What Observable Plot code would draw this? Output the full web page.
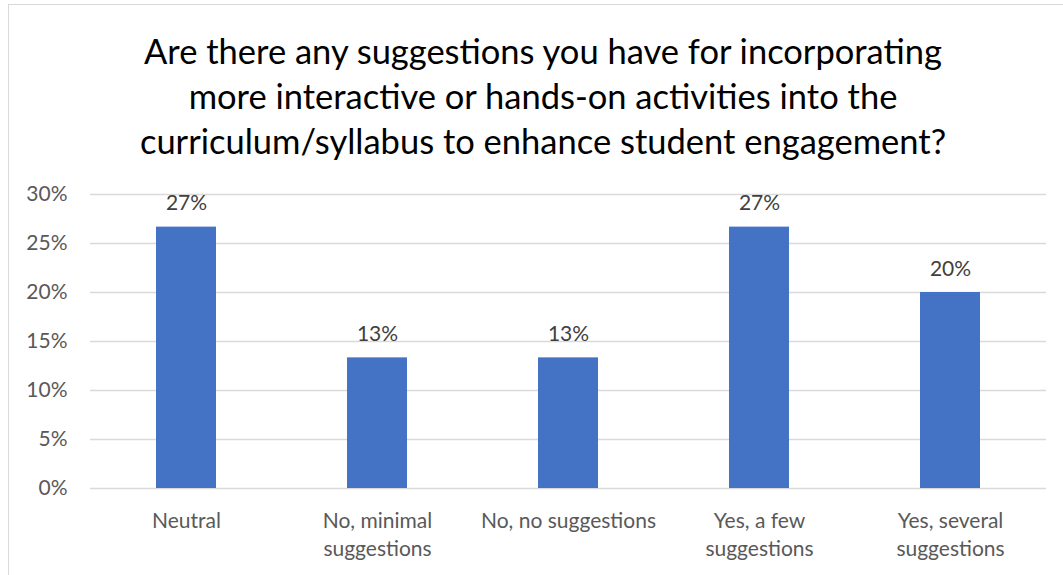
<!DOCTYPE html>
<html>
<head>
<meta charset="utf-8">
<script src="https://cdn.jsdelivr.net/npm/d3@7"></script>
<script src="https://cdn.jsdelivr.net/npm/@observablehq/plot@0.6"></script>
<style>
  html, body { margin: 0; padding: 0; background: #fff; }
  #frame { position: absolute; left: 8px; top: 4px; width: 1060px; height: 575px; border: 1px solid #d9d9d9; box-sizing: border-box; }
  #title { position: absolute; left: 0; top: 28px; width: 1086px; text-align: center; font-family: Lato, sans-serif; font-size: 34.5px; line-height: 45px; color: #000; white-space: nowrap; }
  #chart { position: absolute; left: 0; top: 160px; }
</style>
</head>
<body>
<div id="frame"></div>
<div id="title">Are there any suggestions you have for incorporating<br>more interactive or hands-on activities into the<br>curriculum/syllabus to enhance student engagement?</div>
<div id="chart"></div>
<script>
const categories = ["Neutral", "No, minimal suggestions", "No, no suggestions", "Yes, a few suggestions", "Yes, several suggestions"];
const tickLabels = ["Neutral", "No, minimal\nsuggestions", "No, no suggestions", "Yes, a few\nsuggestions", "Yes, several\nsuggestions"];
const values = [0.2667, 0.1333, 0.1333, 0.2667, 0.20];
const valueLabels = ["27%", "13%", "13%", "27%", "20%"];
const yTicks = [0, 0.05, 0.10, 0.15, 0.20, 0.25, 0.30];

const data = categories.map((c, i) => ({category: c, value: values[i], label: valueLabels[i]}));
const labelOf = new Map(categories.map((c, i) => [c, tickLabels[i]]));

const plot = Plot.plot({
  width: 1063,
  height: 415,
  marginLeft: 90,
  marginRight: 17,
  marginTop: 34,
  marginBottom: 87,
  style: {fontFamily: "Lato, sans-serif", fontSize: "21px", color: "#595959", background: "transparent"},
  x: {domain: categories, paddingInner: 0.686, paddingOuter: 0.343, label: null},
  y: {domain: [0, 0.3], label: null},
  marks: [
    Plot.gridY(yTicks, {stroke: "#d9d9d9", strokeOpacity: 1, strokeWidth: 1.3}),
    Plot.axisY(yTicks, {tickSize: 0, tickPadding: 23, tickFormat: d3.format(".0%"), fontSize: 21, fill: "#595959", label: null}),
    Plot.axisX({tickSize: 0, tickPadding: 20, tickFormat: d => labelOf.get(d), fontSize: 21, lineHeight: 1.33, fill: "#595959", label: null, lineAnchor: "top"}),
    Plot.barY(data, {x: "category", y: "value", fill: "#4472c4"}),
    Plot.text(data, {x: "category", y: "value", text: "label", dy: -17, lineAnchor: "bottom", fontSize: 21, fill: "#404040"})
  ]
});
document.getElementById("chart").appendChild(plot);
</script>
</body>
</html>
